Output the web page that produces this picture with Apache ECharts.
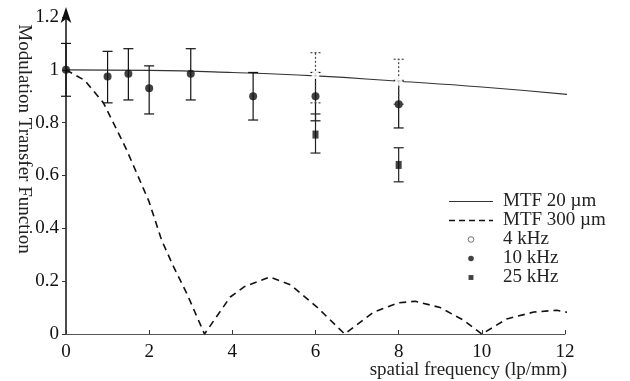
<!DOCTYPE html>
<html>
<head>
<meta charset="utf-8">
<script src="https://cdn.jsdelivr.net/npm/echarts@6/dist/echarts.min.js"></script>
<style>
  html, body { margin: 0; padding: 0; background: #fff; }
  #chart { width: 630px; height: 381px; }
</style>
</head>
<body>
<div id="chart"></div>
<script>
// MTF curves: [spatial frequency, MTF]
const mtf20 = [[0, 1.0], [2, 0.998], [4, 0.99], [6, 0.977], [8, 0.957], [10, 0.935], [12.2, 0.905]];
const mtf300 = [
    [0, 1.0], [0.45, 0.96], [0.9, 0.875], [1.45, 0.70], [2.0, 0.50], [2.3, 0.355],
    [2.6, 0.25], [2.9, 0.155], [3.33, 0], [3.95, 0.14], [4.3, 0.18], [4.9, 0.216],
    [5.4, 0.186], [6.05, 0.10], [6.7, 0], [7.4, 0.083], [8.0, 0.118], [8.4, 0.124],
    [9.0, 0.10], [9.55, 0.053], [10.0, 0], [10.6, 0.057], [11.25, 0.083], [11.8, 0.09],
    [12.2, 0.078]
];

// measurements: x, value, lower, upper
const freq10k = [0, 1, 1.5, 2, 3, 4.5, 6, 8];
const val10k = [1.0, 0.975, 0.985, 0.93, 0.985, 0.9, 0.9, 0.87];
const lo10k = [0.9, 0.875, 0.886, 0.833, 0.886, 0.81, 0.807, 0.78];
const hi10k = [1.1, 1.07, 1.08, 1.015, 1.08, 0.99, 0.99, 0.96];

const freq4k = [6, 8];
const val4k = [0.98, 0.955];
const lo4k = [0.875, 0.87];
const hi4k = [1.065, 1.04];

const freq25k = [6, 8];
const val25k = [0.755, 0.64];
const lo25k = [0.685, 0.576];
const hi25k = [0.833, 0.705];

const serif = '"Liberation Serif", "Times New Roman", serif';

function pts(xs, ys) {
    return xs.map((x, i) => [x, ys[i]]);
}
function bars(xs, lo, hi) {
    return xs.map((x, i) => [x, lo[i], hi[i]]);
}

function errorBar(color, dash) {
    return function (params, api) {
        const x = api.value(0);
        const a = api.coord([x, api.value(1)]);
        const b = api.coord([x, api.value(2)]);
        const w = 5;
        const style = { stroke: color, lineWidth: 1.2, lineDash: dash };
        return {
            type: 'group',
            children: [
                { type: 'line', shape: { x1: a[0], y1: a[1], x2: b[0], y2: b[1] }, style: style },
                { type: 'line', shape: { x1: a[0] - w, y1: a[1], x2: a[0] + w, y2: a[1] }, style: style },
                { type: 'line', shape: { x1: b[0] - w, y1: b[1], x2: b[0] + w, y2: b[1] }, style: style }
            ]
        };
    };
}

// legend icons; the small marks are padded inside a 20x20 box so they stay small
const solidIcon = 'path://M0 0h44v1.2h-44Z';
const dashIcon = 'path://M0 0h6v1.6h-6ZM10 0h6v1.6h-6ZM20 0h6v1.6h-6ZM30 0h6v1.6h-6ZM40 0h4v1.6h-4Z';
const dotIcon = 'path://M0 0M20 20M10 6A4 4 0 1 1 10 14A4 4 0 1 1 10 6Z';
const squareIcon = 'path://M0 0M20 20M6.5 6.5h7v7h-7Z';

const chart = echarts.init(document.getElementById('chart'));
chart.setOption({
    backgroundColor: '#fff',
    animation: false,
    grid: { left: 66, right: 65, top: 17, bottom: 47, outerBoundsMode: 'none' },
    xAxis: {
        type: 'value',
        min: 0,
        max: 12,
        interval: 2,
        axisLine: { show: true, lineStyle: { color: '#555', width: 1 } },
        axisTick: { show: true, inside: true, length: 4, lineStyle: { color: '#333' } },
        axisLabel: { margin: 9, color: '#111', fontFamily: serif, fontSize: 19 },
        splitLine: { show: false }
    },
    yAxis: {
        type: 'value',
        min: 0,
        max: 1.2,
        interval: 0.2,
        axisLine: {
            show: true,
            onZero: false,
            symbol: ['none', 'arrow'],
            symbolSize: [8, 16],
            symbolOffset: [0, 10],
            lineStyle: { color: '#111', width: 1.5 }
        },
        axisTick: { show: true, length: 4, lineStyle: { color: '#333' } },
        axisLabel: {
            margin: 7, color: '#111', fontFamily: serif, fontSize: 19,
            formatter: v => (v === 0 || v === 1) ? String(v) : v.toFixed(1)
        },
        splitLine: { show: false }
    },
    legend: {
        orient: 'vertical',
        left: 449,
        top: 192,
        padding: 0,
        itemWidth: 44,
        itemHeight: 14,
        itemGap: 0,
        textStyle: { fontFamily: serif, fontSize: 19, color: '#222', padding: [0, 0, 0, 5] },
        data: [
            { name: 'MTF 20 µm', icon: solidIcon },
            { name: 'MTF 300 µm', icon: dashIcon },
            { name: '4 kHz', icon: dotIcon, itemStyle: { color: '#fff', borderColor: '#555', borderWidth: 1 } },
            { name: '10 kHz', icon: dotIcon },
            { name: '25 kHz', icon: squareIcon }
        ]
    },
    graphic: [
        {
            type: 'text',
            x: 24,
            y: 139,
            rotation: -Math.PI / 2,
            style: {
                text: 'Modulation Transfer Function',
                fontFamily: serif,
                fontSize: 19,
                fill: '#222',
                align: 'center',
                verticalAlign: 'middle'
            }
        },
        {
            type: 'text',
            right: 63,
            top: 361,
            style: {
                text: 'spatial frequency (lp/mm)',
                fontFamily: serif,
                fontSize: 19,
                fill: '#222'
            }
        }
    ],
    series: [
        {
            name: 'MTF 20 µm',
            type: 'line',
            data: mtf20,
            smooth: true,
            symbol: 'none',
            clip: false,
            lineStyle: { color: '#333', width: 1.1 },
            itemStyle: { color: '#333' },
            z: 2
        },
        {
            name: 'MTF 300 µm',
            type: 'line',
            data: mtf300,
            symbol: 'none',
            clip: false,
            lineStyle: { color: '#111', width: 1.6, type: [7, 5] },
            itemStyle: { color: '#111' },
            z: 2
        },
        {
            type: 'custom',
            data: bars(freq10k, lo10k, hi10k),
            encode: { x: 0, y: [1, 2] },
            renderItem: errorBar('#111', null),
            z: 3
        },
        {
            type: 'custom',
            data: bars(freq4k, lo4k, hi4k),
            encode: { x: 0, y: [1, 2] },
            renderItem: errorBar('#444', [2, 2]),
            z: 3
        },
        {
            type: 'custom',
            data: bars(freq25k, lo25k, hi25k),
            encode: { x: 0, y: [1, 2] },
            renderItem: errorBar('#222', null),
            z: 3
        },
        {
            name: '4 kHz',
            type: 'scatter',
            data: pts(freq4k, val4k),
            symbol: 'emptyCircle',
            symbolSize: 6,
            itemStyle: { color: '#fff', borderColor: '#444', borderWidth: 1.2 },
            z: 4
        },
        {
            name: '10 kHz',
            type: 'scatter',
            data: pts(freq10k, val10k),
            symbol: 'circle',
            symbolSize: 8,
            itemStyle: { color: '#111' },
            z: 4
        },
        {
            name: '25 kHz',
            type: 'scatter',
            data: pts(freq25k, val25k),
            symbol: 'rect',
            symbolSize: [6, 8],
            itemStyle: { color: '#111' },
            z: 4
        }
    ]
});
</script>
</body>
</html>
